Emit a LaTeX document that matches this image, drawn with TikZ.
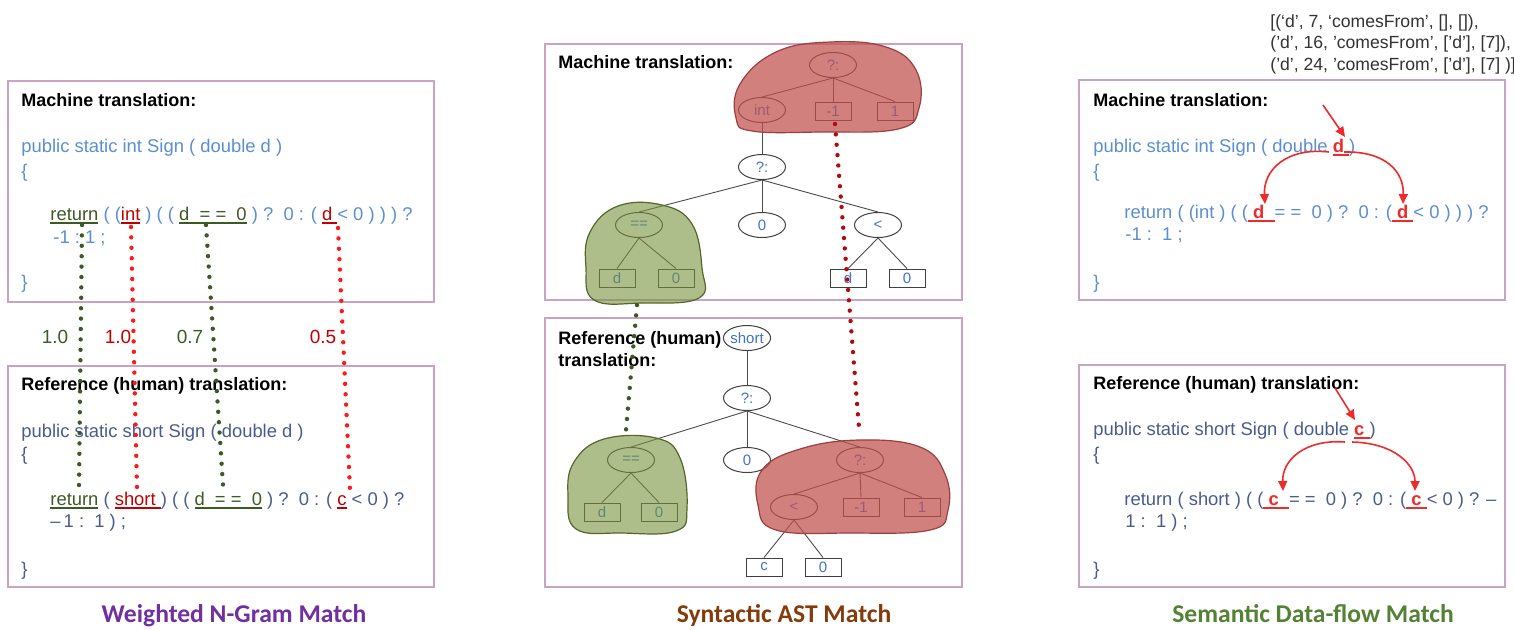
\documentclass[tikz,border=0pt]{standalone}
\usepackage{fontspec}
\setmainfont{Liberation Sans}
\newfontfamily\capfont{Carlito}
\usepackage{tikz}
\usetikzlibrary{arrows.meta, positioning, shapes.geometric}

\definecolor{panelline}{HTML}{C9A3C3}
\definecolor{mtblue}{HTML}{5B8FD0}
\definecolor{refblue}{HTML}{4A5C8E}
\definecolor{nodeblue}{HTML}{4472C4}
\definecolor{matchgreen}{HTML}{3E5A24}
\definecolor{matchred}{HTML}{C00000}
\definecolor{dotred}{HTML}{FF1A1A}
\definecolor{dotdarkred}{HTML}{B00C0C}
\definecolor{blobred}{HTML}{C0504D}
\definecolor{blobgreen}{HTML}{77933C}
\definecolor{flowred}{HTML}{EE2B2B}
\definecolor{cappurple}{HTML}{7030A0}
\definecolor{capbrown}{HTML}{843C0C}
\definecolor{capgreen}{HTML}{548235}

% coloured underlined token
\newcommand\ulc[2]{{\color{#1}\setbox0=\hbox{#2}\rlap{\rule[-1.8pt]{\wd0}{0.6pt}}\box0}}

\begin{document}
\begin{tikzpicture}[
  x=0.5pt, y=-0.5pt,
  panel/.style={draw=panelline, line width=0.8pt},
  titlenode/.style={anchor=west, inner sep=0pt, font=\bfseries\fontsize{9}{11}\selectfont},
  codeline/.style={anchor=west, inner sep=0pt, text height=7pt, text depth=2pt,
                   font=\fontsize{9.2}{11}\selectfont},
  mtcode/.style={codeline, text=mtblue},
  refcode/.style={codeline, text=refblue},
  astnode/.style={ellipse, draw=black!75, fill=white, line width=0.5pt,
                  minimum width=23.5pt, minimum height=12.5pt, inner sep=0pt,
                  text=nodeblue, font=\fontsize{7.5}{9}\selectfont},
  leafnode/.style={rectangle, draw=black!75, fill=white, line width=0.5pt,
                   minimum width=18pt, minimum height=9pt, inner sep=0pt,
                   text=nodeblue, font=\fontsize{7.5}{9}\selectfont},
  astedge/.style={draw=black!70, line width=0.45pt},
  redblob/.style={fill=blobred, draw=blobred!80!black, line width=0.6pt, fill opacity=0.72},
  greenblob/.style={fill=blobgreen, draw=blobgreen!70!black, line width=0.6pt, fill opacity=0.6},
  matchdots/.style={line width=2.2pt, line cap=round, dash pattern=on 0pt off 5.2pt},
  gdots/.style={matchdots, draw=matchgreen},
  rdots/.style={matchdots, draw=dotred},
  weight/.style={inner sep=0pt, font=\fontsize{9.5}{11}\selectfont},
  flow/.style={draw=flowred, line width=0.8pt, -{Triangle[length=5pt,width=4.5pt]}},
  tuple/.style={anchor=west, align=left, inner sep=0pt, text=black!80,
                font=\fontsize{8.8}{10.75}\selectfont},
  caption/.style={anchor=base, inner sep=0pt, font=\capfont\bfseries\fontsize{12.8}{15}\selectfont}
]
  \fill[white] (0,0) rectangle (1514,629);
  \useasboundingbox (0,0) rectangle (1514,629);

  %------------------------------------------------------------
  %  LEFT:  weighted n-gram match
  %------------------------------------------------------------
  \draw[panel] (8,81) rectangle (434,302);
  \node[titlenode] (LMtitle) at (21,100) {Machine translation:};
  \node[mtcode] (LM1) at (21,147) {public static int Sign ( double d )};
  \node[mtcode] (LM2) at (21,172) {\{};
  \node[mtcode] (LM3) at (50,215) {\ulc{matchgreen}{return}\ ( (\ulc{matchred}{int} ) ( ( \ulc{matchgreen}{d\ \ = =\ \ 0} ) ?\ \ 0 : ( \ulc{matchred}{d\ }< 0 ) ) )\ ?};
  \node[mtcode] (LM4) at (53,238) {-1 :\ 1 ;};
  \node[mtcode] (LM5) at (21,283) {\}};

  \draw[panel] (8,366) rectangle (434,587);
  \node[titlenode] (LRtitle) at (21,386) {Reference (human) translation:};
  \node[refcode] (LR1) at (21,432) {public static short Sign ( double d )};
  \node[refcode] (LR2) at (21,455) {\{};
  \node[refcode] (LR3) at (50,500) {\ulc{matchgreen}{return} ( \ulc{matchred}{short\ }) ( ( \ulc{matchgreen}{d\ \ = =\ \ 0} ) ?\ \ 0 : ( \ulc{matchred}{c} < 0 ) ?};
  \node[refcode] (LR4) at (50,522) {--\,1 :\ \ 1 ) ;};
  \node[refcode] (LR5) at (21,570) {\}};

  \node[weight, text=matchgreen] (w1) at (55,337)  {1.0};
  \node[weight, text=matchred]   (w2) at (118,337) {1.0};
  \node[weight, text=matchgreen] (w3) at (190,337) {0.7};
  \node[weight, text=matchred]   (w4) at (323,337) {0.5};

  \coordinate (g1a) at (82,225);  \coordinate (g1b) at (79,486);
  \coordinate (r1a) at (131,227); \coordinate (r1b) at (137,487);
  \coordinate (g2a) at (206,225); \coordinate (g2b) at (223,485);
  \coordinate (r2a) at (338,228); \coordinate (r2b) at (350,490);
  \draw[gdots] (g1a) -- (g1b);
  \draw[rdots] (r1a) -- (r1b);
  \draw[gdots] (g2a) -- (g2b);
  \draw[rdots] (r2a) -- (r2b);

  %------------------------------------------------------------
  %  MIDDLE:  syntactic AST match
  %------------------------------------------------------------
  \draw[panel] (545,44) rectangle (962,300);
  \node[titlenode] (AMtitle) at (558,62) {Machine translation:};

  \node[astnode]  (T1)  at (833,65)  {?:};
  \node[astnode]  (T2)  at (762,110) {int};
  \node[leafnode] (T3)  at (833,111) {-1};
  \node[leafnode] (T4)  at (895,111) {1};
  \node[astnode]  (T5)  at (762,167) {?:};
  \node[astnode]  (T6)  at (639,225) {==};
  \node[astnode]  (T7)  at (762,225) {0};
  \node[astnode]  (T8)  at (878,225) {<};
  \node[leafnode] (T9)  at (617,278) {d};
  \node[leafnode] (T10) at (676,278) {0};
  \node[leafnode] (T11) at (848,278) {d};
  \node[leafnode] (T12) at (907,278) {0};
  \foreach \p/\c in {T1/T2, T1/T3, T1/T4, T2/T5, T5/T6, T5/T7, T5/T8, T6/T9, T6/T10, T8/T11, T8/T12}
    \draw[astedge] (\p.south) -- (\c.north);

  \draw[redblob] plot[smooth cycle, tension=0.7] coordinates {(736,118) (740,84) (776,52) (830,42) (886,47) (916,70) (919,108) (898,129) (820,132) (752,131)};
  \draw[greenblob] plot[smooth cycle, tension=0.7] coordinates {(590,232) (618,206) (662,205) (692,224) (702,268) (699,298) (642,303) (594,300) (586,268)};

  \draw[panel] (545,318) rectangle (962,587);
  \node[titlenode, align=left] (ARtitle) at (558,349) {Reference (human)\\translation:};

  \node[astnode]  (B1)  at (747,338) {short};
  \node[astnode]  (B2)  at (747,398) {?:};
  \node[astnode]  (B3)  at (631,460) {==};
  \node[astnode]  (B4)  at (747,460) {0};
  \node[astnode]  (B5)  at (860,460) {?:};
  \node[leafnode] (B6)  at (602,512) {d};
  \node[leafnode] (B7)  at (659,512) {0};
  \node[astnode]  (B8)  at (794,507) {<};
  \node[leafnode] (B9)  at (861,507) {-1};
  \node[leafnode] (B10) at (922,507) {1};
  \node[leafnode] (B11) at (764,567) {c};
  \node[leafnode] (B12) at (823,567) {0};
  \foreach \p/\c in {B1/B2, B2/B3, B2/B4, B2/B5, B3/B6, B3/B7, B5/B8, B5/B9, B5/B10, B8/B11, B8/B12}
    \draw[astedge] (\p.south) -- (\c.north);

  \draw[greenblob] plot[smooth cycle, tension=0.7] coordinates {(574,462) (604,439) (656,438) (680,458) (687,508) (676,531) (622,533) (576,529) (568,496)};
  \draw[redblob] plot[smooth cycle, tension=0.7] coordinates {(762,470) (800,449) (860,440) (920,447) (945,474) (948,510) (930,530) (850,533) (776,530) (758,505)};

  \coordinate (ga) at (637,305); \coordinate (gb) at (626,430);
  \coordinate (ra) at (835,124); \coordinate (rb) at (859,428);
  \draw[gdots] (ga) -- (gb);
  \draw[matchdots, draw=dotdarkred] (ra) -- (rb);

  %------------------------------------------------------------
  %  RIGHT:  semantic data-flow match
  %------------------------------------------------------------
  \node[tuple] (DFG) at (1270,44) {[(‘d’, 7, ‘comesFrom’, [], []),\\('d', 16, 'comesFrom', ['d'], [7]),\\('d', 24, 'comesFrom', ['d'], [7] )]};

  \draw[panel] (1079,80) rectangle (1505,300);
  \node[titlenode] (DMtitle) at (1093,100) {Machine translation:};
  \node[mtcode] (DM1) at (1093,147) {public static int Sign ( double \ulc{flowred}{\textbf{d}\ })};
  \node[mtcode] (DM2) at (1093,172) {\{};
  \node[mtcode] (DM3) at (1124,213) {return ( (int ) ( (\ulc{flowred}{\ \textbf{d}\ \ }= =\ \ 0 ) ?\ \ 0 : (\ulc{flowred}{\ \textbf{d}\ }< 0 ) ) ) ?};
  \node[mtcode] (DM4) at (1125,235) {-1 :\ \ 1 ;};
  \node[mtcode] (DM5) at (1093,283) {\}};

  \coordinate (dm0) at (1323,105); \coordinate (dm1) at (1345,137);
  \coordinate (dm2) at (1329,152); \coordinate (dm3) at (1265,204);
  \coordinate (dm4) at (1344,152); \coordinate (dm5) at (1403,204);
  \draw[flow] (dm0) -- (dm1);
  \draw[flow] (dm2) .. controls (1287,147) and (1263,170) .. (dm3);
  \draw[flow] (dm4) .. controls (1386,151) and (1404,172) .. (dm5);

  \draw[panel] (1079,365) rectangle (1505,587);
  \node[titlenode] (DRtitle) at (1093,385) {Reference (human) translation:};
  \node[refcode] (DR1) at (1093,430) {public static short Sign ( double \ulc{flowred}{\textbf{c}\ })};
  \node[refcode] (DR2) at (1093,455) {\{};
  \node[refcode] (DR3) at (1124,500) {return ( short ) ( (\ulc{flowred}{\ \textbf{c}\ \ }= =\ \ 0 ) ?\ \ 0 : (\ulc{flowred}{\ \textbf{c}\ }< 0 ) ? --};
  \node[refcode] (DR4) at (1125,522) {1 :\ \ 1 ) ;};
  \node[refcode] (DR5) at (1093,570) {\}};

  \coordinate (dr0) at (1335,388); \coordinate (dr1) at (1355,420);
  \coordinate (dr2) at (1345,442); \coordinate (dr3) at (1283,491);
  \coordinate (dr4) at (1352,442); \coordinate (dr5) at (1415,491);
  \draw[flow] (dr0) -- (dr1);
  \draw[flow] (dr2) .. controls (1305,439) and (1282,460) .. (dr3);
  \draw[flow] (dr4) .. controls (1395,443) and (1415,465) .. (dr5);

  %------------------------------------------------------------
  %  CAPTIONS
  %------------------------------------------------------------
  \node[caption, text=cappurple] (cap1) at (234,622)  {Weighted N-Gram Match};
  \node[caption, text=capbrown]  (cap2) at (784,622)  {Syntactic AST Match};
  \node[caption, text=capgreen]  (cap3) at (1313,622) {Semantic Data-flow Match};
\end{tikzpicture}
\end{document}
